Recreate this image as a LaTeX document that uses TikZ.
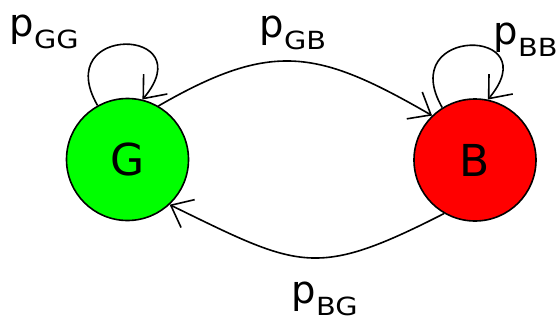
\documentclass[tikz,border=0pt]{standalone}
\usepackage{fontspec}
\setmainfont{DejaVu Sans}
\newfontfamily\subf{DejaVu Sans}[FakeStretch=1.15]
\usetikzlibrary{arrows.meta}
\newcommand\subtxt[1]{\raisebox{-12pt}{\subf\fontsize{25}{27}\selectfont #1}}
\begin{document}
\begin{tikzpicture}[x=1pt,y=1pt,
  state/.style={circle,draw=black,line width=1.6pt,minimum size=122pt,inner sep=0pt,font=\fontsize{44}{48}\selectfont},
  edge/.style={line width=1.6pt,-{Straight Barb[length=19pt,width=31pt,line width=1.6pt]}},
  lbl/.style={anchor=base west,inner sep=0pt,font=\fontsize{38.5}{40}\selectfont}]
\useasboundingbox (0,0) rectangle (558,-322);
\node[state,fill=green] (G) at (127.5,-159.5) {G};
\node[state,fill=red] (B) at (475,-160) {B};
\node[lbl] (lGG) at (9.5,-36) {p\subtxt{GG}};
\node[lbl] (lGB) at (259.5,-37) {p\subtxt{GB}};
\node[lbl] (lBB) at (493.5,-44) {p\subtxt{BB}};
\node[lbl] (lBG) at (291.5,-303) {p\subtxt{BG}};
\draw[edge] (G.60) to[out=30,in=150,looseness=1.23] (B.134);
\draw[edge] (B.240) to[out=207,in=334,looseness=1.35] (G.313);
\draw[edge] (G.119) .. controls +(120:95pt) and +(50:95pt) .. (G.76);
\draw[edge] (B.122) .. controls +(120:95pt) and +(50:95pt) .. (B.78);
\end{tikzpicture}
\end{document}
